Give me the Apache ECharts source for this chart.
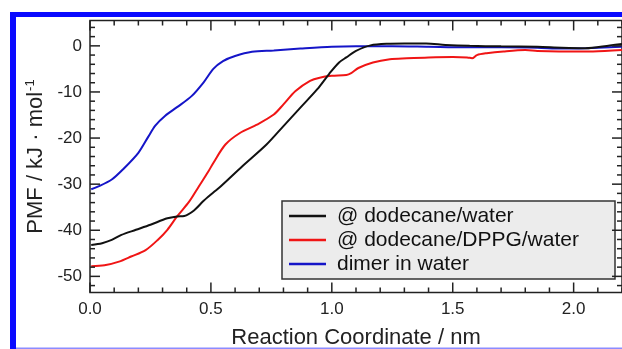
<!DOCTYPE html>
<html>
<head>
<meta charset="utf-8">
<script src="https://cdn.jsdelivr.net/npm/echarts@6/dist/echarts.min.js"></script>
<style>
  html, body { margin: 0; padding: 0; background: #fff; }
  #chart { width: 622px; height: 349px; }
</style>
</head>
<body>
<div id="chart"></div>
<script>
// PMF profiles along the reaction coordinate (nm, kJ/mol)
const seriesNames = ['@ dodecane/water', '@ dodecane/DPPG/water', 'dimer in water'];

const dodecaneX = [0.005, 0.05, 0.09, 0.13, 0.19, 0.25, 0.32, 0.36, 0.39, 0.43, 0.47, 0.51, 0.54, 0.63, 0.73, 0.80, 0.87, 0.94, 0.99, 1.03, 1.06, 1.10, 1.16, 1.23, 1.30, 1.39, 1.47, 1.57, 1.70, 1.85, 1.95, 2.05, 2.15, 2.20];
const dodecaneY = [-43.2, -42.8, -42.1, -41.0, -39.9, -38.8, -37.4, -37.0, -36.9, -35.7, -33.6, -31.8, -30.5, -26.1, -21.4, -17.4, -13.4, -9.4, -6.0, -3.6, -2.5, -1.1, 0.1, 0.45, 0.5, 0.5, 0.2, 0.0, -0.1, -0.2, -0.4, -0.5, 0.1, 0.4];

const dppgX = [0.005, 0.06, 0.12, 0.17, 0.23, 0.28, 0.32, 0.36, 0.41, 0.45, 0.49, 0.51, 0.56, 0.62, 0.69, 0.76, 0.80, 0.85, 0.91, 0.95, 1.00, 1.06, 1.08, 1.11, 1.17, 1.24, 1.31, 1.40, 1.50, 1.56, 1.58, 1.60, 1.64, 1.71, 1.80, 1.85, 1.94, 2.08, 2.20];
const dppgY = [-47.8, -47.6, -46.8, -45.7, -44.3, -42.1, -39.9, -37.0, -33.8, -30.5, -27.2, -25.4, -21.4, -18.9, -17.1, -14.9, -12.7, -9.8, -7.6, -6.9, -6.5, -6.3, -5.9, -4.8, -3.6, -2.9, -2.7, -2.5, -2.4, -2.5, -2.7, -2.0, -1.6, -1.2, -0.9, -1.1, -1.2, -1.2, -0.9];

const dimerX = [0.005, 0.03, 0.09, 0.14, 0.20, 0.24, 0.27, 0.31, 0.36, 0.42, 0.47, 0.51, 0.55, 0.60, 0.67, 0.76, 0.87, 1.00, 1.10, 1.25, 1.40, 1.55, 1.70, 1.85, 1.95, 2.05, 2.15, 2.20];
const dimerY = [-31.1, -30.6, -29.0, -26.6, -23.2, -19.8, -17.3, -15.2, -13.3, -10.9, -7.9, -5.0, -3.3, -2.2, -1.3, -1.0, -0.6, -0.2, -0.1, -0.1, -0.2, -0.3, -0.3, -0.4, -0.6, -0.5, -0.3, -0.2];

const xTicks = [0, 0.5, 1.0, 1.5, 2.0];
const yTicks = [-50, -40, -30, -20, -10, 0];
const xRange = [0, 2.2];
const yRange = [-53.5, 5.5];

function minorTicks(range, step, majors) {
  const out = [];
  const start = Math.ceil(range[0] / step);
  const end = Math.floor(range[1] / step);
  for (let i = start; i <= end; i++) {
    const v = +(i * step).toFixed(4);
    if (!majors.some(m => Math.abs(m - v) < 1e-6)) out.push(v);
  }
  return out;
}
const xMinor = minorTicks(xRange, 0.1, xTicks);
const yMinor = minorTicks(yRange, 2, yTicks);

function pairs(xs, ys) { return xs.map((x, i) => [x, ys[i]]); }

const ink = '#222';
const fontFamily = '"Liberation Sans", Arial, Helvetica, sans-serif';
const MAJOR_LEN = 10, MINOR_LEN = 5;

// Tick rows: [position, tick length]
const xTickRows = xTicks.map(v => [v, MAJOR_LEN]).concat(xMinor.map(v => [v, MINOR_LEN]));
const yTickRows = yTicks.map(v => [v, MAJOR_LEN]).concat(yMinor.map(v => [v, MINOR_LEN]));

const tickStyle = { stroke: ink, lineWidth: 1.5 };

// Inward ticks on bottom and top edges, positioned by the grid's coordinate system
function renderXTick(params, api) {
  const v = api.value(0), len = api.value(1);
  const b = api.coord([v, yRange[0]]);
  const t = api.coord([v, yRange[1]]);
  return {
    type: 'group',
    children: [
      { type: 'line', shape: { x1: b[0], y1: b[1], x2: b[0], y2: b[1] - len }, style: tickStyle },
      { type: 'line', shape: { x1: t[0], y1: t[1], x2: t[0], y2: t[1] + len }, style: tickStyle }
    ]
  };
}
// Inward ticks on left and right edges
function renderYTick(params, api) {
  const v = api.value(0), len = api.value(1);
  const l = api.coord([xRange[0], v]);
  const r = api.coord([xRange[1], v]);
  return {
    type: 'group',
    children: [
      { type: 'line', shape: { x1: l[0], y1: l[1], x2: l[0] + len, y2: l[1] }, style: tickStyle },
      { type: 'line', shape: { x1: r[0], y1: r[1], x2: r[0] - len, y2: r[1] }, style: tickStyle }
    ]
  };
}

const chart = echarts.init(document.getElementById('chart'), null, { renderer: 'canvas' });
chart.setOption({
  animation: false,
  backgroundColor: '#fff',
  grid: {
    left: 90, top: 20.5, right: 0, bottom: 56.5,
    containLabel: false, outerBoundsMode: 'none',
    show: true, borderColor: ink, borderWidth: 1.5, backgroundColor: 'transparent'
  },
  xAxis: {
    type: 'value', min: xRange[0], max: xRange[1],
    splitLine: { show: false },
    axisLine: { show: false, onZero: false },
    axisTick: { show: false },
    axisLabel: {
      customValues: xTicks, margin: 8, fontSize: 17, color: ink, fontFamily: fontFamily,
      formatter: v => v.toFixed(1)
    },
    name: 'Reaction Coordinate / nm', nameLocation: 'middle', nameGap: 34,
    nameTextStyle: { fontSize: 22, color: ink, fontFamily: fontFamily }
  },
  yAxis: {
    type: 'value', min: yRange[0], max: yRange[1],
    splitLine: { show: false },
    axisLine: { show: false, onZero: false },
    axisTick: { show: false },
    axisLabel: {
      customValues: yTicks, margin: 8, fontSize: 17, color: ink, fontFamily: fontFamily,
      formatter: v => String(v)
    },
    name: 'PMF / kJ · mol{sup|-1}', nameLocation: 'middle', nameGap: 43,
    nameTextStyle: {
      fontSize: 22, color: ink, fontFamily: fontFamily,
      rich: { sup: { fontSize: 13, color: ink, fontFamily: fontFamily, verticalAlign: 'top', padding: [0, 0, 10, 1] } }
    }
  },
  legend: {
    orient: 'vertical', left: 282, top: 201,
    padding: [3, 6, 3, 7], itemGap: 0, itemWidth: 37, itemHeight: 2.5,
    icon: 'rect',
    backgroundColor: '#ececec', borderColor: '#333', borderWidth: 1.5, borderRadius: 0,
    textStyle: { fontSize: 21, color: '#111', fontFamily: fontFamily, lineHeight: 24, width: 272, padding: [0, 0, 0, 6] },
    data: seriesNames
  },
  series: [
    { name: seriesNames[0], type: 'line', data: pairs(dodecaneX, dodecaneY), symbol: 'none', smooth: 0.3,
      lineStyle: { color: '#111', width: 2 }, itemStyle: { color: '#111' }, z: 3 },
    { name: seriesNames[1], type: 'line', data: pairs(dppgX, dppgY), symbol: 'none', smooth: 0.3,
      lineStyle: { color: '#f01515', width: 2 }, itemStyle: { color: '#f01515' }, z: 2 },
    { name: seriesNames[2], type: 'line', data: pairs(dimerX, dimerY), symbol: 'none', smooth: 0.3,
      lineStyle: { color: '#1515c8', width: 2 }, itemStyle: { color: '#1515c8' }, z: 2 },
    { name: 'x ticks', type: 'custom', data: xTickRows, renderItem: renderXTick,
      encode: { x: 0 }, clip: false, silent: true, z: 6, tooltip: { show: false } },
    { name: 'y ticks', type: 'custom', data: yTickRows, renderItem: renderYTick,
      encode: { y: 0 }, clip: false, silent: true, z: 6, tooltip: { show: false } }
  ],
  graphic: [
    // Blue figure border: left and top bars, faint bottom rule
    { type: 'rect', shape: { x: 10, y: 12, width: 612, height: 5 }, style: { fill: '#0a0aff' }, silent: true, z: 10 },
    { type: 'rect', shape: { x: 10, y: 12, width: 6, height: 337 }, style: { fill: '#0a0aff' }, silent: true, z: 10 },
    { type: 'rect', shape: { x: 16, y: 347.5, width: 606, height: 1.5 }, style: { fill: '#8c8cff' }, silent: true, z: 10 }
  ]
});
</script>
</body>
</html>
